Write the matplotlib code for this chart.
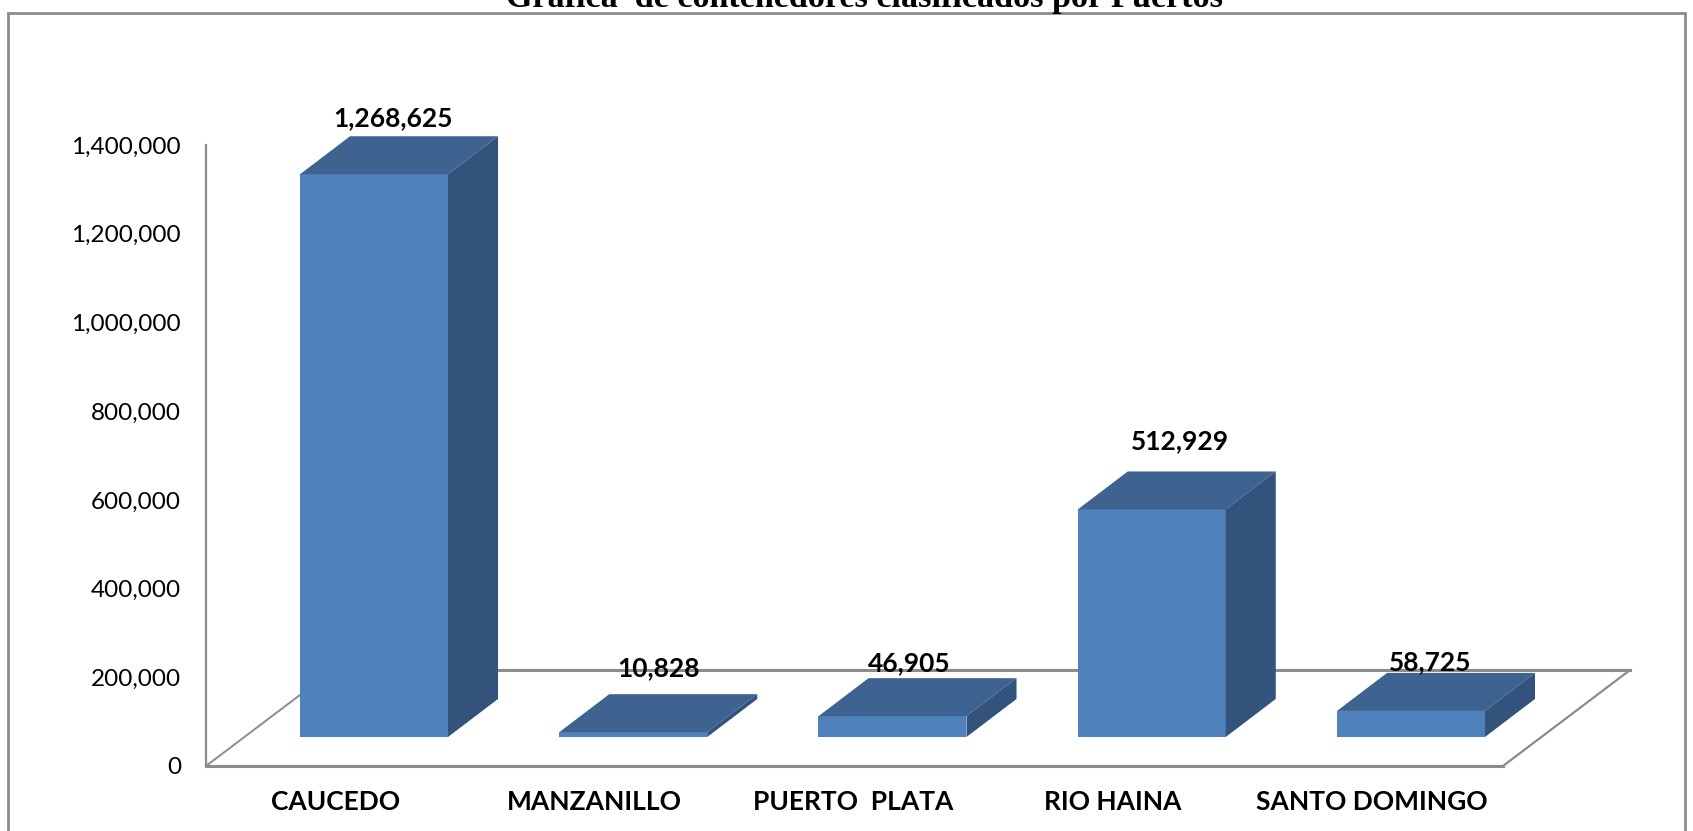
import matplotlib
matplotlib.use("Agg")
import matplotlib.pyplot as plt
from matplotlib.patches import Rectangle
from matplotlib.ticker import StrMethodFormatter
import numpy as np

puertos = ["CAUCEDO", "MANZANILLO", "PUERTO  PLATA", "RIO HAINA", "SANTO DOMINGO"]
contenedores = [1268625, 10828, 46905, 512929, 58725]
y_ticks = [0, 200000, 400000, 600000, 800000, 1000000, 1200000, 1400000]
titulo = "Grafica  de contenedores clasificados por Puertos"

W, H = 1693, 831
GRIS = "#8c8c8c"
FRENTE = "#4f81bd"
TECHO = "#3e6390"
LADO = "#33537d"

plt.rcParams["font.family"] = ["Lato", "DejaVu Sans"]

fig = plt.figure(figsize=(W / 100, H / 100), dpi=100, facecolor="white")
ax = fig.add_axes([206 / W, (H - 766) / H, (1503 - 206) / W, 621 / H])
ax.set_xlim(-0.648, 4.355)
ax.set_ylim(0, 1400000)
ax.patch.set_alpha(0)
for s in ax.spines.values():
    s.set_visible(False)

# 3d look, all in data units
ancho = 148 / 259.25
base = 65400
dx = 0.193
dy = 85700
piso_dx = 0.49
piso_dy = 216400
x0, x1 = ax.get_xlim()

# floor and y axis
ax.plot([x0, x0], [0, 1400000], color=GRIS, lw=1.6, clip_on=False, zorder=1)
ax.plot([x0, x1], [0, 0], color=GRIS, lw=2.2, clip_on=False, zorder=1)
ax.plot([x0, x0 + piso_dx], [0, piso_dy], color=GRIS, lw=1.4, clip_on=False, zorder=1)
ax.plot([x1, x1 + piso_dx], [0, piso_dy], color=GRIS, lw=1.6, clip_on=False, zorder=1)
ax.plot([x0 + piso_dx, x1 + piso_dx], [piso_dy, piso_dy], color=GRIS, lw=2.2, clip_on=False, zorder=1)

x = np.arange(len(puertos))
ax.bar(x, contenedores, width=ancho, bottom=base, color=FRENTE, linewidth=0, zorder=3)

for xi, v in zip(x, contenedores):
    izq = xi - ancho / 2
    der = xi + ancho / 2
    tope = base + v
    ax.fill([izq, der, der + dx, izq + dx], [tope, tope, tope + dy, tope + dy],
            color=TECHO, lw=0, zorder=3, clip_on=False)
    ax.fill([der, der + dx, der + dx, der], [base, base + dy, tope + dy, tope],
            color=LADO, lw=0, zorder=3, clip_on=False)

# labels sit a bit differently over each bar, offsets in points
etiqueta_dx = [14, 18, 12, 20, 14]
etiqueta_dy = [13, 19, 11, 22, 8]
for xi, v, ox, oy in zip(x, contenedores, etiqueta_dx, etiqueta_dy):
    ax.annotate(f"{v:,}", (xi, base + v + dy), xytext=(ox, oy), textcoords="offset points",
                ha="center", va="center", fontsize=19, fontweight="bold", color="black",
                zorder=5, annotation_clip=False)

ax.set_yticks(y_ticks)
ax.yaxis.set_major_formatter(StrMethodFormatter("{x:,.0f}"))
ax.tick_params(axis="y", length=0, pad=18, labelsize=17.5)
ax.set_xticks(x - 0.15)
ax.set_xticklabels(puertos, fontweight="bold", fontsize=19)
ax.tick_params(axis="x", length=0, pad=17)

# outer frame runs off the bottom of the picture
fig.add_artist(Rectangle((8 / W, -0.02), (1685 - 8) / W, 1.02 - 13 / H, transform=fig.transFigure,
                         fill=False, edgecolor=GRIS, lw=2))
fig.text(865 / W, 1 - 7 / H, titulo, ha="center", va="baseline", fontsize=24.6, fontweight="bold",
         family="Liberation Serif", color="black")

fig.savefig("out.png", dpi=100)
